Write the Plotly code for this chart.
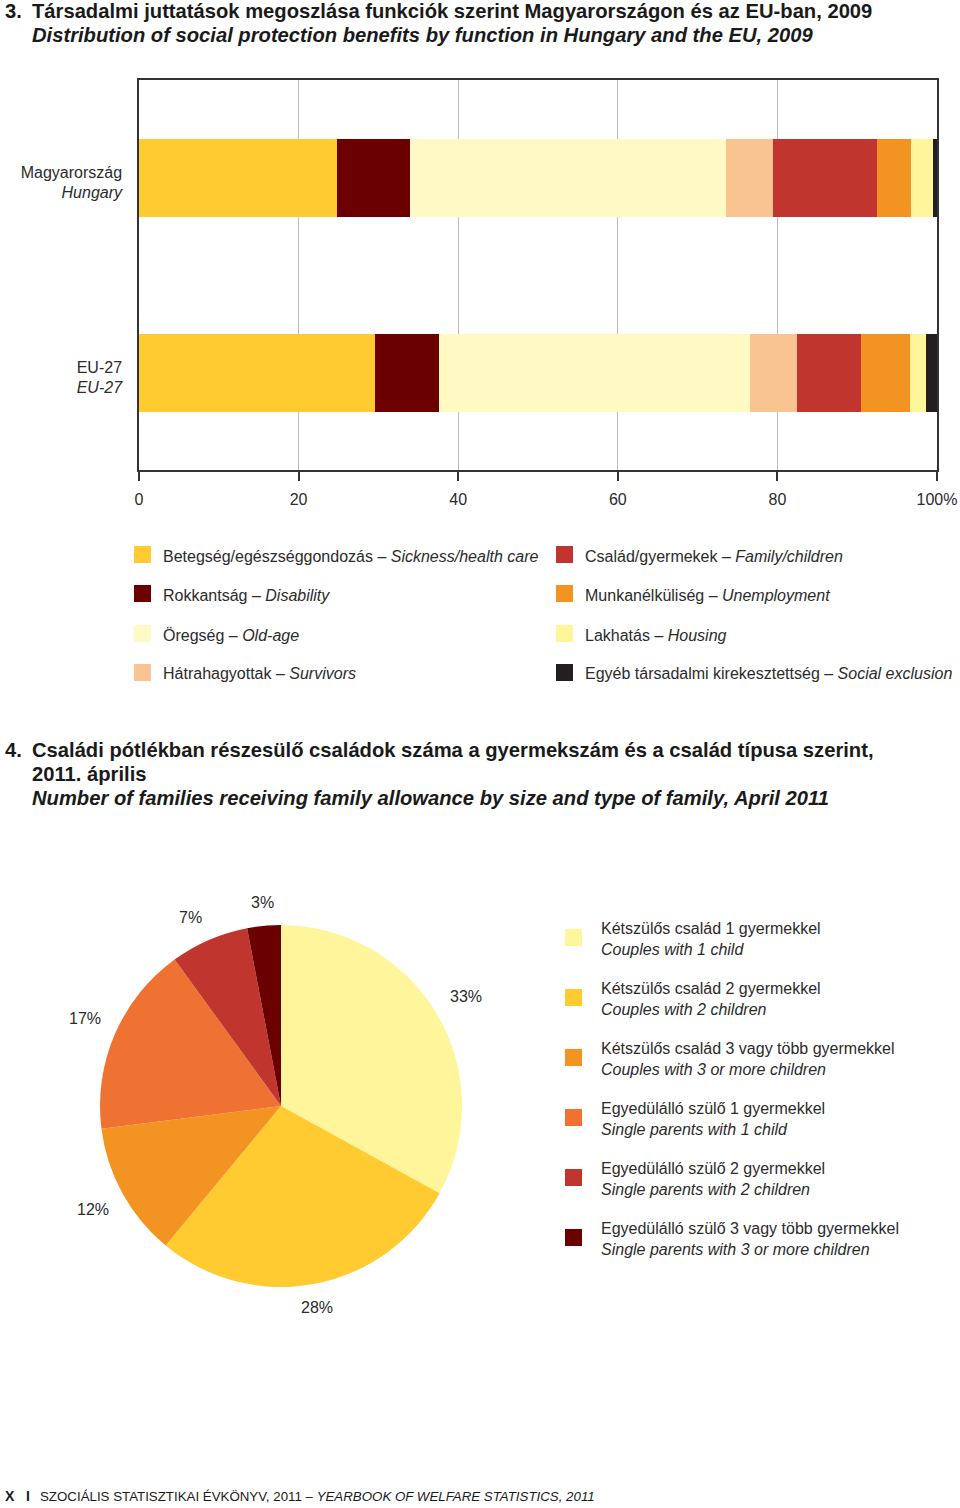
import math
import plotly.graph_objects as go

# ---------------- data ----------------
countries_hu = ["Magyarország", "EU-27"]
countries_en = ["Hungary", "EU-27"]

functions_hu = ["Betegség/egészséggondozás", "Rokkantság", "Öregség", "Hátrahagyottak",
                "Család/gyermekek", "Munkanélküliség", "Lakhatás", "Egyéb társadalmi kirekesztettség"]
functions_en = ["Sickness/health care", "Disability", "Old-age", "Survivors",
                "Family/children", "Unemployment", "Housing", "Social exclusion"]
hungary_values = [24.8, 9.1, 39.6, 5.9, 13.1, 4.3, 2.7, 0.5]
eu27_values = [29.6, 8.0, 39.0, 5.9, 8.0, 6.1, 2.0, 1.4]
x_tick_values = [0, 20, 40, 60, 80, 100]
x_tick_labels = ["0", "20", "40", "60", "80", "100%"]

family_hu = ["Kétszülős család 1 gyermekkel", "Kétszülős család 2 gyermekkel",
             "Kétszülős család 3 vagy több gyermekkel", "Egyedülálló szülő 1 gyermekkel",
             "Egyedülálló szülő 2 gyermekkel", "Egyedülálló szülő 3 vagy több gyermekkel"]
family_en = ["Couples with 1 child", "Couples with 2 children", "Couples with 3 or more children",
             "Single parents with 1 child", "Single parents with 2 children",
             "Single parents with 3 or more children"]
family_shares = [33, 28, 12, 17, 7, 3]

# ---------------- styles ----------------
bar_colors = ["#FFCB31", "#6B0000", "#FFF9C4", "#F9C492", "#C0362F", "#F39321", "#FFF59B", "#231F20"]
pie_colors = ["#FFF59B", "#FFCB31", "#F39321", "#F07232", "#C0362F", "#6B0000"]

W, H = 960, 1508
FONT = "Liberation Sans, Arial, sans-serif"
NARROW = "Liberation Sans Narrow, Arial Narrow, Liberation Sans, sans-serif"
TXT = "#2b2b2b"


def px(x):
    return x / W


def py(y):
    return 1 - y / H


fig = go.Figure()

ycats = [f"{h}<br><i>{e}</i>" for h, e in zip(countries_hu, countries_en)]
for i, (fh, fe) in enumerate(zip(functions_hu, functions_en)):
    fig.add_trace(go.Bar(
        x=[hungary_values[i], eu27_values[i]], y=ycats, orientation="h",
        name=f"{fh} – {fe}", marker=dict(color=bar_colors[i], line=dict(width=0)),
        width=0.4, showlegend=False, hoverinfo="x+name",
    ))

# bar plot area: x 139..937, y 80..470 (pixels)
fig.update_layout(
    barmode="stack",
    xaxis=dict(domain=[px(139), px(937)], range=[0, 100], tickvals=x_tick_values,
               ticktext=x_tick_labels, showgrid=True, gridcolor="#BDBDBD", gridwidth=1,
               showline=True, linecolor="#333333", linewidth=1.5, mirror=True,
               ticks="outside", ticklen=9, tickcolor="#333333", tickwidth=1.5,
               ticklabelstandoff=5,
               tickfont=dict(family=FONT, size=16, color=TXT), zeroline=False,
               fixedrange=True, automargin=False),
    yaxis=dict(domain=[py(470), py(80)], categoryorder="array", categoryarray=ycats,
               autorange="reversed", showline=True, linecolor="#333333", linewidth=1.5,
               mirror=True, showgrid=False, ticks="", ticklabelstandoff=12,
               ticklabelshift=-5,
               tickfont=dict(family=FONT, size=16, color=TXT), fixedrange=True,
               automargin=False),
    bargap=0.6,
)

# ---------------- pie ----------------
cx, cy, r = 281, 1106, 181
fig.add_trace(go.Pie(
    values=family_shares, labels=[f"{h} – {e}" for h, e in zip(family_hu, family_en)],
    sort=False, direction="clockwise", rotation=0,
    marker=dict(colors=pie_colors, line=dict(width=0)),
    textinfo="none", showlegend=False,
    domain=dict(x=[px(cx - r), px(cx + r)], y=[py(cy + r), py(cy - r)]),
))

annotations = []
shapes = []

# pie labels outside the slices, computed from the values
total = sum(family_shares)
cum = 0
for v in family_shares:
    mid = (cum + v / 2) / total * 2 * math.pi
    cum += v
    s, c = math.sin(mid), math.cos(mid)
    gx = cx + (r + 13) * s
    gy = cy - (r + 13) * c
    xa = "left" if s > 0.3 else ("right" if s < -0.3 else "center")
    ya = "bottom" if c > 0.3 else ("top" if c < -0.3 else "middle")
    annotations.append(dict(x=px(gx), y=py(gy), xref="paper", yref="paper", text=f"{v}%",
                            showarrow=False, xanchor=xa, yanchor=ya,
                            font=dict(family=FONT, size=16, color=TXT)))

# ---------------- titles ----------------
def text(x, y, t, size=16, family=FONT, color=TXT, xanchor="left", yanchor="middle"):
    annotations.append(dict(x=px(x), y=py(y), xref="paper", yref="paper", text=t,
                            showarrow=False, xanchor=xanchor, yanchor=yanchor, align="left",
                            font=dict(family=family, size=size, color=color)))


TC = "#1a1a1a"
text(3, 11, "<b>3.</b>", 20.2, NARROW, TC)
text(30, 11, "<b>Társadalmi juttatások megoszlása funkciók szerint Magyarországon és az EU-ban, 2009</b>", 20.2, NARROW, TC)
text(30, 35, "<b><i>Distribution of social protection benefits by function in Hungary and the EU, 2009</i></b>", 20.2, NARROW, TC)

text(3, 750, "<b>4.</b>", 20.2, NARROW, TC)
text(30, 750, "<b>Családi pótlékban részesülő családok száma a gyermekszám és a család típusa szerint,</b>", 20.2, NARROW, TC)
text(30, 774, "<b>2011. április</b>", 20.2, NARROW, TC)
text(30, 798, "<b><i>Number of families receiving family allowance by size and type of family, April 2011</i></b>", 20.2, NARROW, TC)

# ---------------- bar legend ----------------
leg_rows = [554, 593, 633, 672]
leg_cols = [(134, 161), (556, 583)]
for i, (fh, fe) in enumerate(zip(functions_hu, functions_en)):
    col, row = divmod(i, 4)
    sx, tx = leg_cols[col]
    yy = leg_rows[row]
    shapes.append(dict(type="rect", xref="paper", yref="paper", x0=px(sx), x1=px(sx + 17),
                       y0=py(yy + 9), y1=py(yy - 8), fillcolor=bar_colors[i], line=dict(width=0)))
    text(tx, yy + 2, f"{fh} – <i>{fe}</i>", 16)

# ---------------- pie legend ----------------
pie_rows = [937, 997, 1057, 1117, 1177, 1237]
for i, (fh, fe) in enumerate(zip(family_hu, family_en)):
    yy = pie_rows[i]
    shapes.append(dict(type="rect", xref="paper", yref="paper", x0=px(565), x1=px(582),
                       y0=py(yy + 9), y1=py(yy - 8), fillcolor=pie_colors[i], line=dict(width=0)))
    text(599, yy + 2, f"{fh}<br><i>{fe}</i>", 16)

# ---------------- footer ----------------
text(3, 1496, "<b>X</b>", 14, NARROW, TC)
text(24, 1496, "<b>I</b>", 14, NARROW, TC)
text(38, 1496, "SZOCIÁLIS STATISZTIKAI ÉVKÖNYV, 2011 – <i>YEARBOOK OF WELFARE STATISTICS, 2011</i>", 13.3, NARROW, TC)

fig.update_layout(
    width=W, height=H, margin=dict(l=0, r=0, t=0, b=0, autoexpand=False),
    paper_bgcolor="white", plot_bgcolor="white",
    annotations=annotations, shapes=shapes,
    font=dict(family=FONT, color=TXT),
)

fig.write_html("out.html", config={"responsive": False, "displayModeBar": False},
               post_script="document.body.style.margin='0';document.body.style.overflow='hidden';")
